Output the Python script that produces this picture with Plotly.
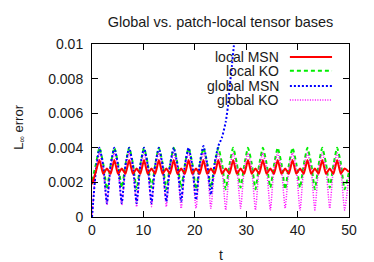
import plotly.graph_objects as go

# ---- data ----
t = [0, 0.73,
     1.45, 2.17, 2.9, 3.62, 4.34, 5.06, 5.79, 6.51, 7.23, 7.95, 8.68, 9.4,
     10.12, 10.84, 11.57, 12.29, 13.01, 13.73, 14.46, 15.18, 15.9, 16.62, 17.35, 18.07,
     18.79, 19.51, 20.24, 20.96, 21.68, 22.4, 23.13, 23.85, 24.57, 25.29, 26.02, 26.74,
     27.46, 28.18, 28.91, 29.63, 30.35, 31.07, 31.8, 32.52, 33.24, 33.96, 34.69, 35.41,
     36.13, 36.85, 37.58, 38.3, 39.02, 39.74, 40.47, 41.19, 41.91, 42.63, 43.36, 44.08,
     44.8, 45.52, 46.25, 46.97, 47.69, 48.41, 49.14, 50]

local_msn = [0.0019, 0.0026,
             0.0033, 0.0025, 0.0028, 0.0025, 0.0033, 0.0025, 0.0028, 0.0025, 0.0033, 0.0025, 0.0028, 0.0025,
             0.0033, 0.0025, 0.0028, 0.0025, 0.0033, 0.0025, 0.0028, 0.0025, 0.0033, 0.0025, 0.0028, 0.0025,
             0.0033, 0.0025, 0.0028, 0.0025, 0.0033, 0.0025, 0.0028, 0.0025, 0.0033, 0.0025, 0.0028, 0.0025,
             0.0033, 0.0025, 0.0028, 0.0025, 0.0033, 0.0025, 0.0028, 0.0025, 0.0033, 0.0025, 0.0028, 0.0025,
             0.0033, 0.0025, 0.0028, 0.0025, 0.0033, 0.0025, 0.0028, 0.0025, 0.0033, 0.0025, 0.0028, 0.0025,
             0.0033, 0.0025, 0.0028, 0.0025, 0.0033, 0.0025, 0.0028, 0.0026]

local_ko = [0.0021, 0.0030,
            0.0040, 0.0031, 0.0016, 0.0030, 0.0040, 0.0031, 0.0017, 0.0030, 0.0040, 0.0031, 0.0016, 0.0030,
            0.0040, 0.0031, 0.0017, 0.0030, 0.0040, 0.0031, 0.0016, 0.0030, 0.0040, 0.0031, 0.0017, 0.0030,
            0.0040, 0.0031, 0.0016, 0.0030, 0.0040, 0.0031, 0.0017, 0.0030, 0.0040, 0.0031, 0.0016, 0.0030,
            0.0040, 0.0031, 0.0017, 0.0030, 0.0040, 0.0031, 0.0016, 0.0030, 0.0040, 0.0031, 0.0017, 0.0030,
            0.0040, 0.0031, 0.0016, 0.0030, 0.0040, 0.0031, 0.0017, 0.0030, 0.0040, 0.0031, 0.0016, 0.0030,
            0.0040, 0.0031, 0.0017, 0.0030, 0.0040, 0.0031, 0.0016, 0.0026]

global_ko = [0.0, 0.0027,
             0.0037, 0.0028, 0.0007, 0.0028, 0.0037, 0.0028, 0.0007, 0.0028, 0.0037, 0.0028, 0.0006, 0.0028,
             0.0037, 0.0028, 0.0006, 0.0028, 0.0037, 0.0028, 0.0006, 0.0028, 0.0037, 0.0028, 0.0005, 0.0028,
             0.0037, 0.0028, 0.0005, 0.0028, 0.0037, 0.0028, 0.0005, 0.0028, 0.0037, 0.0028, 0.0004, 0.0028,
             0.0037, 0.0028, 0.0005, 0.0028, 0.0037, 0.0028, 0.0004, 0.0028, 0.0037, 0.0028, 0.0004, 0.0028,
             0.0037, 0.0028, 0.0005, 0.0028, 0.0037, 0.0028, 0.0004, 0.0028, 0.0037, 0.0028, 0.0004, 0.0028,
             0.0037, 0.0028, 0.0005, 0.0028, 0.0037, 0.0028, 0.0004, 0.0024]

t_gmsn = [0, 0.73,
          1.45, 2.17, 2.9, 3.62, 4.34, 5.06, 5.79, 6.51, 7.23, 7.95, 8.68, 9.4,
          10.12, 10.84, 11.57, 12.29, 13.01, 13.73, 14.46, 15.18, 15.9, 16.62, 17.35, 18.07,
          18.79, 19.51, 20.24, 20.96, 21.68, 22.4, 23.13, 23.85, 24.57,
          25.29, 26.02, 26.45, 26.85, 27.2, 27.6, 28.0]
global_msn = [0.0, 0.0026,
              0.0040, 0.0030, 0.0008, 0.0030, 0.0040, 0.0030, 0.0008, 0.0030, 0.0040, 0.0030, 0.0008, 0.0030,
              0.0040, 0.0030, 0.0008, 0.0030, 0.0040, 0.0030, 0.0009, 0.0030, 0.0040, 0.0030, 0.0009, 0.0030,
              0.0040, 0.0030, 0.0010, 0.0031, 0.0041, 0.0031, 0.0013, 0.0031, 0.0041,
              0.0046, 0.0055, 0.0064, 0.0077, 0.0087, 0.0099, 0.0113]

y_ticks = [0, 0.002, 0.004, 0.006, 0.008, 0.01]
y_tick_text = ["0", "0.002", "0.004", "0.006", "0.008", "0.01"]
x_ticks = [0, 10, 20, 30, 40, 50]

names = ["local MSN", "local KO", "global MSN", "global KO"]
colors = ["#ff0000", "#00ee00", "#0000ff", "#ff00ff"]
dashes = ["solid", "4px,3px", "2px,2px", "1px,1.5px"]
widths = [2, 2, 2, 1.5]

FONT = "Liberation Sans, Arial, sans-serif"
TXT = "#1a1a1a"

fig = go.Figure()
series = [(t, local_msn), (t, local_ko), (t_gmsn, global_msn), (t, global_ko)]
order = [1, 3, 2, 0]
for i in order:
    xs, ys = series[i]
    fig.add_trace(go.Scatter(x=xs, y=ys, mode="lines", name=names[i],
                             line=dict(color=colors[i], dash=dashes[i], width=widths[i], shape="spline", smoothing=0.5),
                             showlegend=False, cliponaxis=True))

# gnuplot-style legend (text right, sample on the right)
rows_y = [0.925, 0.846, 0.757, 0.676]
annotations = []
shapes = []
for i in range(4):
    annotations.append(dict(x=0.735, y=rows_y[i], xref="paper", yref="paper", text=names[i],
                            showarrow=False, xanchor="right", yanchor="middle",
                            font=dict(family=FONT, size=14, color=TXT)))
    shapes.append(dict(type="line", xref="paper", yref="paper", x0=0.770, x1=0.934,
                       y0=rows_y[i], y1=rows_y[i],
                       line=dict(color=colors[i], dash=dashes[i], width=widths[i])))

annotations.append(dict(x=0.5, y=-0.22, xref="paper", yref="paper", text="t", showarrow=False,
                        xanchor="center", yanchor="middle", font=dict(family=FONT, size=14, color=TXT)))
annotations.append(dict(x=-0.285, y=0.52, xref="paper", yref="paper", text="L<sub>∞</sub> error",
                        showarrow=False, textangle=-90, xanchor="center", yanchor="middle",
                        font=dict(family=FONT, size=13, color=TXT)))

# page body has an 8px margin, so the figure is offset by 8px
fig.update_layout(
    width=366, height=254,
    margin=dict(l=84, r=25, t=36, b=45),
    paper_bgcolor="white", plot_bgcolor="white",
    title=dict(text="Global vs. patch-local tensor bases", x=0.5, xref="paper", xanchor="center",
               y=1 - 14 / 254, yref="container", yanchor="middle",
               font=dict(family=FONT, size=14.5, color=TXT)),
    annotations=annotations, shapes=shapes,
    font=dict(family=FONT, size=14, color=TXT),
)
fig.update_xaxes(range=[0, 50], tickvals=x_ticks, ticks="inside", ticklen=6, tickcolor="black",
                 showline=True, linecolor="black", linewidth=1, mirror="ticks", showgrid=False,
                 zeroline=False, tickfont=dict(family=FONT, size=14, color=TXT))
fig.update_yaxes(range=[0, 0.01], tickvals=y_ticks, ticktext=y_tick_text, ticks="inside", ticklen=6,
                 tickcolor="black", showline=True, linecolor="black", linewidth=1, mirror="ticks",
                 showgrid=False, zeroline=False, tickfont=dict(family=FONT, size=14, color=TXT),
                 ticklabelstandoff=5)

fig.write_html("out.html")
